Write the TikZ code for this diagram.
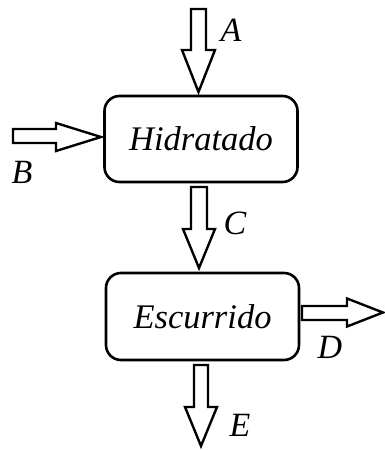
\documentclass[tikz,border=0pt]{standalone}
\usepackage{fontspec}
\setmainfont{Liberation Serif}
\begin{document}
\begin{tikzpicture}[x=1pt,y=-1pt,
  procbox/.style={draw,line width=2.6pt,rounded corners=15pt,minimum width=193pt,minimum height=86pt,inner sep=0pt,font=\fontsize{34.5}{34.5}\selectfont\itshape},
  blk/.style={draw,line width=2.4pt,fill=white,line join=miter},
  lab/.style={font=\fontsize{34}{34}\selectfont\itshape,inner sep=0pt}]
\useasboundingbox (0,0) rectangle (384,450);
\node[procbox] (hid) at (201,139) {Hidratado};
\node[procbox,minimum height=87pt] (esc) at (202.5,316.5) {Escurrido};
% A
\draw[blk] (191,9) -- (206,9) -- (206,50) -- (215,50) -- (198.5,92) -- (182,50) -- (191,50) -- cycle;
% B
\draw[blk] (13,129) -- (56,129) -- (56,123) -- (101,137) -- (56,151) -- (56,143) -- (13,143) -- cycle;
% C
\draw[blk] (191,187) -- (207,187) -- (207,229) -- (215,229) -- (199,268) -- (183,229) -- (191,229) -- cycle;
% D
\draw[blk] (302,306) -- (347,306) -- (347,298.5) -- (383,312.5) -- (347,326.5) -- (347,320) -- (302,320) -- cycle;
% E
\draw[blk] (194,365) -- (208,365) -- (208,407) -- (217,407) -- (201,446) -- (185,407) -- (194,407) -- cycle;
\node[lab] (la) at (231,30) {A};
\node[lab] (lb) at (22,172) {B};
\node[lab] (lc) at (235,223) {C};
\node[lab] (ld) at (330,347) {D};
\node[lab] (le) at (240,425) {E};
\end{tikzpicture}
\end{document}
